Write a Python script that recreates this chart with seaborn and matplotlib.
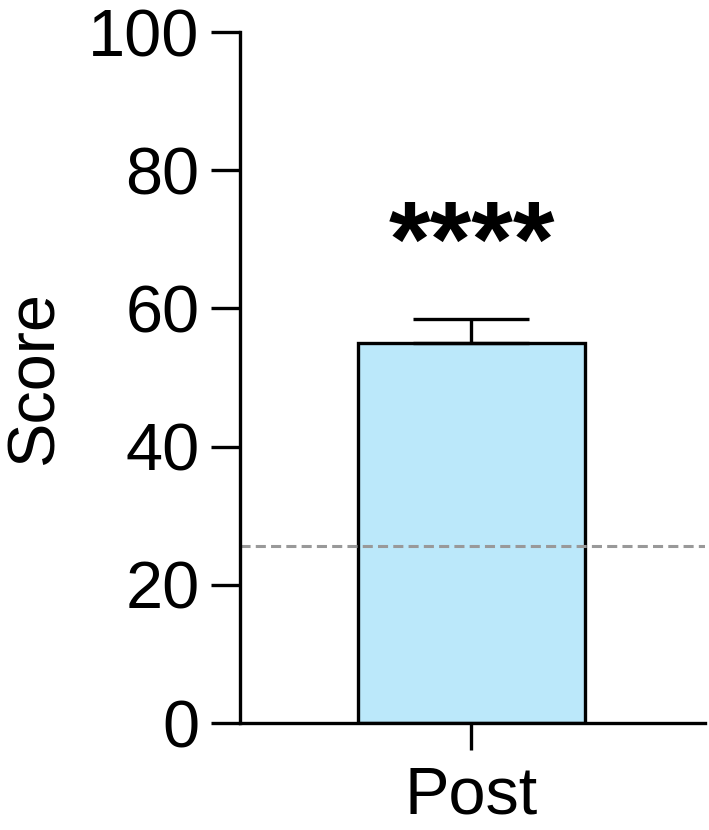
import matplotlib
matplotlib.use("Agg")
import matplotlib.pyplot as plt
import seaborn as sns
import pandas as pd

# values
groups = ["Post"]
scores = [55.0]
sem_upper = [3.4]
chance_level = 25.6
stars = "****"
y_ticks = [0, 20, 40, 60, 80, 100]

sns.set_style("ticks")
plt.rcParams["font.family"] = ["Liberation Sans", "DejaVu Sans"]
plt.rcParams["text.color"] = "black"
plt.rcParams["axes.labelcolor"] = "black"
plt.rcParams["xtick.color"] = "black"
plt.rcParams["ytick.color"] = "black"
plt.rcParams["axes.edgecolor"] = "black"

df = pd.DataFrame({"group": groups, "score": scores})

fig = plt.figure(figsize=(7.09, 8.30), dpi=100)
ax = fig.add_axes([0.3385, 0.1289, 0.6555, 0.8325])

sns.barplot(data=df, x="group", y="score", color="#BBE8FA", saturation=1,
            width=0.976, edgecolor="black", linewidth=2.4, errorbar=None, ax=ax)

# upper-only error bar
ax.errorbar(range(len(groups)), scores, yerr=[[0] * len(groups), sem_upper],
            fmt="none", ecolor="black", elinewidth=2.4, capsize=42, capthick=2.4,
            zorder=1)

# chance line
ax.axhline(chance_level, color="#999999", linestyle=(0, (3.3, 1.7)), linewidth=2.2, zorder=5)

# significance stars
for i, s in enumerate(scores):
    ax.text(i, 68.8, stars, ha="center", va="center", fontsize=77, fontweight="bold")

ax.set_xlim(-0.996, 1.004)
ax.set_ylim(0, 100)
ax.set_yticks(y_ticks)
ax.set_xlabel("")
ax.set_ylabel("Score", fontsize=48, labelpad=16)

for side in ["top", "right"]:
    ax.spines[side].set_visible(False)
for side in ["left", "bottom"]:
    ax.spines[side].set_linewidth(2.4)
ax.spines["left"].set_zorder(6)

ax.tick_params(axis="y", length=21, width=2.4, pad=8, labelsize=48)
ax.tick_params(axis="x", length=19.5, width=2.4, pad=11, labelsize=48)

fig.savefig("out.png", dpi=100)
